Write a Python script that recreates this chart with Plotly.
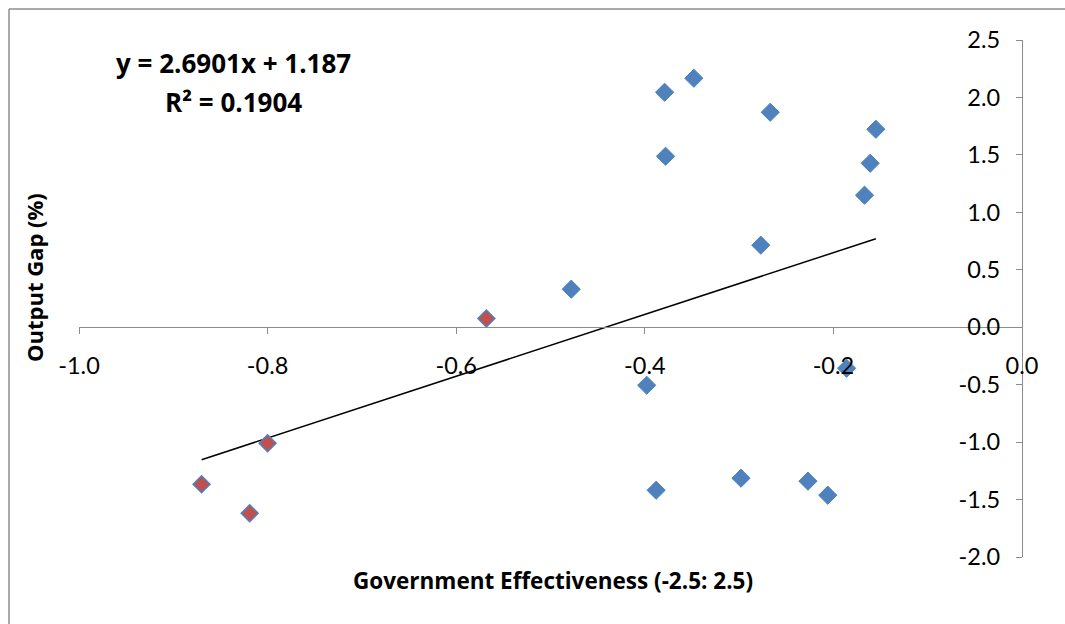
import plotly.graph_objects as go

# Data
blue_x = [-0.379, -0.348, -0.267, -0.155, -0.378, -0.161, -0.167, -0.277, -0.478,
          -0.398, -0.186, -0.388, -0.298, -0.227, -0.206]
blue_y = [2.045, 2.167, 1.871, 1.723, 1.488, 1.427, 1.149, 0.714, 0.331,
          -0.505, -0.357, -1.419, -1.314, -1.340, -1.462]
red_x = [-0.568, -0.800, -0.870, -0.819]
red_y = [0.076, -1.010, -1.366, -1.619]

slope = 2.6901
intercept = 1.187
r2 = 0.1904

x_ticks = [-1.0, -0.8, -0.6, -0.4, -0.2, 0.0]
y_ticks = [-2.0, -1.5, -1.0, -0.5, 0.0, 0.5, 1.0, 1.5, 2.0, 2.5]

W, H = 1065, 624
L, R, T, B = 79, 43, 40, 67
pw, ph = W - L - R, H - T - B

def px_x(p):
    return (p - L) / pw

def px_y(p):
    return (H - B - p) / ph

all_x = blue_x + red_x
xmin, xmax = min(all_x), max(all_x)

BLUE = "#4F81BD"
RED = "#C0504D"
FONT = "Lato"
BFONT = "Open Sans"

fig = go.Figure()
fig.add_trace(go.Scatter(
    x=[xmin, xmax], y=[slope * xmin + intercept, slope * xmax + intercept],
    mode="lines", line=dict(color="black", width=1.5), showlegend=False,
    hoverinfo="skip"))
fig.add_trace(go.Scatter(
    x=blue_x, y=blue_y, mode="markers", showlegend=False,
    marker=dict(symbol="diamond", size=14, color=BLUE,
                line=dict(color=BLUE, width=1))))
fig.add_trace(go.Scatter(
    x=red_x, y=red_y, mode="markers", showlegend=False,
    marker=dict(symbol="diamond", size=13, color=RED,
                line=dict(color=BLUE, width=1.5))))

def ann(text, x, y, size=21, angle=0):
    return dict(text=f"<b>{text}</b>", xref="paper", yref="paper",
                x=px_x(x), y=px_y(y), xanchor="center", yanchor="middle",
                showarrow=False, textangle=angle,
                font=dict(size=size, family=BFONT, color="black"))

fig.update_layout(
    width=W, height=H,
    margin=dict(l=L, r=R, t=T, b=B, pad=0),
    paper_bgcolor="white", plot_bgcolor="white",
    font=dict(family=FONT, color="black"),
    xaxis=dict(
        range=[-1.0, 0.0], tickvals=x_ticks,
        ticktext=[f"{v:.1f}" for v in x_ticks],
        showgrid=False, zeroline=False, showline=True, linecolor="#8c8c8c",
        linewidth=1.3, ticks="outside", ticklen=6, tickcolor="#8c8c8c",
        tickwidth=1.3, anchor="free", position=(0 - (-2.0)) / 4.5,
        side="bottom", tickfont=dict(size=23.5, family=FONT, color="black"),
        ticklabelstandoff=11),
    yaxis=dict(
        range=[-2.0, 2.5], tickvals=y_ticks,
        ticktext=[f"{v:.1f}" for v in y_ticks],
        showgrid=False, zeroline=False, showline=True, linecolor="#8c8c8c",
        linewidth=1.3, ticks="outside", ticklen=6, tickcolor="#8c8c8c",
        tickwidth=1.3, anchor="free", position=1.0, side="left",
        tickfont=dict(size=23.5, family=FONT, color="black"),
        ticklabelstandoff=11),
    annotations=[
        ann("y = 2.6901x + 1.187", 233, 63, size=26),
        ann("R² = 0.1904", 233, 102, size=26),
        ann("Government Effectiveness (-2.5: 2.5)", 553, 580, size=22.5),
        ann("Output Gap (%)", 34, 278, size=22, angle=-90),
    ],
    shapes=[
        dict(type="line", xref="paper", yref="paper",
             x0=px_x(9), x1=px_x(9), y0=px_y(9), y1=px_y(640),
             line=dict(color="#8c8c8c", width=1.5)),
        dict(type="line", xref="paper", yref="paper",
             x0=px_x(9), x1=px_x(1080), y0=px_y(9), y1=px_y(9),
             line=dict(color="#8c8c8c", width=1.5)),
    ],
)

fig.write_html("out.html")
